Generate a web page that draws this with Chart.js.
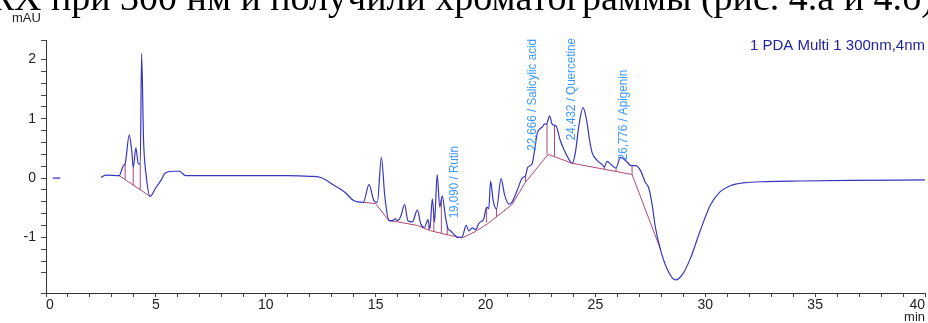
<!DOCTYPE html>
<html>
<head>
<meta charset="utf-8">
<script src="https://cdn.jsdelivr.net/npm/chart.js@4/dist/chart.umd.min.js"></script>
<style>
  html, body { margin: 0; padding: 0; background: #fff; }
  #wrap { width: 928px; height: 323px; position: relative; }
</style>
</head>
<body>
<div id="wrap"><canvas id="chrom" width="928" height="323"></canvas></div>
<script>
// --- data (time in min, signal in mAU) ---
const times = [
  0.3, 0.65, 1.5,
  2.5, 2.73, 3.33, 3.52, 3.6, 3.79, 3.9, 3.97, 4.09, 4.2, 4.29, 4.35, 4.44, 4.55, 4.74,
  5.0, 5.23, 5.41, 5.76, 6.06, 6.36, 7.0, 9.0, 11.0, 12.0, 12.5, 13.1, 13.6, 14.0, 14.44,
  14.7, 14.92, 15.08, 15.26, 15.42, 15.6, 15.76, 15.9, 16.0, 16.14, 16.32, 16.47, 16.67,
  16.9, 17.05, 17.23, 17.38, 17.47, 17.58, 17.68, 17.8, 17.92, 18.03, 18.18, 18.3, 18.41,
  18.56, 18.74, 18.94, 19.12, 19.24, 19.4, 19.55, 19.7, 19.92, 20.05, 20.15, 20.23, 20.35,
  20.5, 20.71, 20.86, 21.06, 21.2, 21.44, 21.67, 21.82, 21.92, 22.12, 22.23, 22.35, 22.47,
  22.58, 22.68, 22.77, 22.92, 23.03, 23.14, 23.23, 23.38, 23.56, 23.79, 23.94, 24.09, 24.24,
  24.44, 24.59, 24.74, 24.85, 25.08, 25.3, 25.41, 25.53, 25.71, 25.94, 26.14, 26.29, 26.44,
  26.62, 26.82, 27.05, 27.27, 27.42, 27.58, 27.73, 27.95, 28.26, 28.64, 28.94, 29.32, 29.77,
  30.23, 30.68, 31.14, 31.74, 32.8, 34.3, 36.6, 40.0
];
const signal = [
  0.0, 0.0, null,
  0.01, 0.05, 0.04, 0.21, 0.24, 0.73, 0.46, 0.18, 0.51, 0.24, 0.24, 2.10, 0.63, 0.07, -0.31,
  -0.16, -0.04, 0.08, 0.115, 0.115, 0.04, 0.04, 0.04, 0.04, 0.03, 0.01, -0.12, -0.24, -0.38, -0.41,
  -0.11, -0.38, -0.41, 0.35, -0.32, -0.71, -0.72, -0.69, -0.72, -0.65, -0.45, -0.72, -0.74,
  -0.54, -0.77, -0.83, -0.70, -0.86, -0.35, -0.74, 0.06, -0.49, -0.30, -0.66, -0.86, -0.89,
  -0.95, -1.0, -0.99, -0.80, -0.89, -0.84, -0.87, -0.76, -0.69, -0.49, -0.52, -0.05, -0.38,
  -0.52, -0.01, -0.27, -0.44, -0.41, -0.21, 0.0, 0.04, 0.18, 0.24, 0.46, 0.75, 0.83,
  0.86, 0.91, 0.91, 1.05, 0.91, 0.89, 0.87, 0.66, 0.49, 0.32, 0.25, 0.43, 0.86,
  1.19, 1.0, 0.63, 0.43, 0.30, 0.23, 0.19, 0.28, 0.23, 0.17, 0.35, 0.32, 0.27,
  0.21, 0.21, 0.13, -0.07, -0.16, -0.44, -0.83, -1.19, -1.53, -1.72, -1.64, -1.36, -0.89,
  -0.46, -0.23, -0.13, -0.08, -0.06, -0.05, -0.04, -0.03
];

// integration baselines (null splits the two segments)
const baseTimes = [3.33, 4.74, 9.0, 14.44, 15.0, 15.6, 16.0, 16.9, 17.5, 18.3, 18.94, 19.5, 20.1, 21.2, 21.82, 22.85, 23.94, 26.67, 27.95];
const baseValues = [0.04, -0.31, null, -0.41, -0.43, -0.72, -0.74, -0.80, -0.89, -0.96, -1.01, -0.91, -0.77, -0.45, -0.07, 0.40, 0.25, 0.06, -1.19];

// peak drop lines: time, top (signal), bottom (baseline)
const dropTimes = [3.6, 3.97, 4.29, 17.42, 17.65, 17.99, 18.26, 20.05, 20.5, 21.82, 22.8, 23.14, 25.41, 25.94, 26.67];
const dropTop = [0.24, 0.18, 0.24, -0.80, -0.62, -0.37, -0.80, -0.49, -0.52, 0.04, 0.91, 0.89, 0.19, 0.17, 0.21];
const dropBottom = [-0.03, -0.12, -0.20, -0.88, -0.90, -0.93, -0.955, -0.75, -0.66, -0.07, 0.40, 0.36, 0.15, 0.12, 0.06];

// identified peaks
const peakTimes = [19.090, 22.666, 24.432, 26.776];
const peakNames = ['Rutin', 'Salicylic acid', 'Quercetine', 'Apigenin'];
const peakLabelY = [-0.68, 0.46, 0.64, 0.30];

const traceName = '1 PDA Multi 1 300nm,4nm';
const pageText = 'ВЭЖХ при 300 нм и получили хроматограммы (рис. 4.а и 4.б)';

// --- build datasets ---
const tracePts = times.map((t, i) => ({ x: t, y: signal[i] }));
const basePts = baseTimes.map((t, i) => ({ x: t, y: baseValues[i] }));
const dropPts = [];
dropTimes.forEach((t, i) => {
    dropPts.push({ x: t, y: dropBottom[i] }, { x: t, y: dropTop[i] }, { x: t, y: null });
});

const SANS = "'Liberation Sans', Arial, sans-serif";

// extra texts: page line, units, trace name, peak labels
const annotations = {
    id: 'annotations',
    afterDraw(chart) {
        const { ctx, chartArea, scales } = chart;
        ctx.save();

        ctx.fillStyle = '#000';
        ctx.font = "38px 'Liberation Serif', 'Times New Roman', serif";
        ctx.textAlign = 'right';
        ctx.textBaseline = 'alphabetic';
        ctx.fillText(pageText, 934, 10);

        ctx.fillStyle = '#222';
        ctx.font = '13px ' + SANS;
        ctx.textAlign = 'left';
        ctx.textBaseline = 'middle';
        ctx.fillText('mAU', 12, 18);
        ctx.textAlign = 'right';
        ctx.fillText('min', chartArea.right, 317);

        ctx.fillStyle = '#22229e';
        ctx.font = '15px ' + SANS;
        ctx.fillText(traceName, chartArea.right, 46);

        ctx.fillStyle = '#3d97ff';
        ctx.font = '12.5px ' + SANS;
        ctx.textAlign = 'left';
        ctx.textBaseline = 'bottom';
        peakTimes.forEach((t, i) => {
            const px = scales.x.getPixelForValue(t) - 5;
            const py = scales.y.getPixelForValue(peakLabelY[i]);
            ctx.save();
            ctx.translate(px, py);
            ctx.rotate(-Math.PI / 2);
            ctx.scale(0.93, 1);
            ctx.fillText(t.toFixed(3).replace('.', ',') + ' / ' + peakNames[i], 0, 0);
            ctx.restore();
        });
        ctx.restore();
    }
};

new Chart(document.getElementById('chrom'), {
    type: 'line',
    data: {
        datasets: [
            {
                label: traceName,
                data: tracePts,
                borderColor: '#3636c2',
                borderWidth: 1.2,
                pointRadius: 0,
                cubicInterpolationMode: 'monotone',
                spanGaps: false,
                order: 1
            },
            {
                label: 'baseline',
                data: basePts,
                borderColor: '#ad4774',
                borderWidth: 1,
                pointRadius: 0,
                tension: 0,
                spanGaps: false,
                order: 2
            },
            {
                label: 'drops',
                data: dropPts,
                borderColor: '#ad4774',
                borderWidth: 1,
                pointRadius: 0,
                tension: 0,
                spanGaps: false,
                order: 2
            }
        ]
    },
    options: {
        responsive: false,
        animation: false,
        devicePixelRatio: 1,
        layout: { padding: { top: 40, right: 3, left: 0, bottom: 0 } },
        plugins: { legend: { display: false }, tooltip: { enabled: false } },
        scales: {
            x: {
                type: 'linear',
                min: 0,
                max: 40,
                afterFit: (s) => { s.height = 30; },
                border: { color: '#333', width: 1 },
                grid: { drawOnChartArea: false, tickLength: 4, tickColor: '#444' },
                ticks: {
                    stepSize: 1,
                    autoSkip: false,
                    maxRotation: 0,
                    align: 'inner',
                    padding: 0,
                    color: '#222',
                    font: { family: SANS, size: 14 },
                    callback: (v) => (v % 5 === 0 ? String(v) : '')
                }
            },
            y: {
                type: 'linear',
                min: -1.94,
                max: 2.33,
                afterFit: (s) => { s.width = 46; },
                border: { color: '#333', width: 1 },
                grid: { drawOnChartArea: false, tickLength: 5, tickColor: '#444' },
                ticks: {
                    stepSize: 0.2,
                    autoSkip: false,
                    padding: 5,
                    color: '#222',
                    font: { family: SANS, size: 14 },
                    callback: (v) => {
                        const r = Math.round(v);
                        return Math.abs(v - r) < 1e-6 ? String(r) : '';
                    }
                }
            }
        }
    },
    plugins: [annotations]
});
</script>
</body>
</html>
